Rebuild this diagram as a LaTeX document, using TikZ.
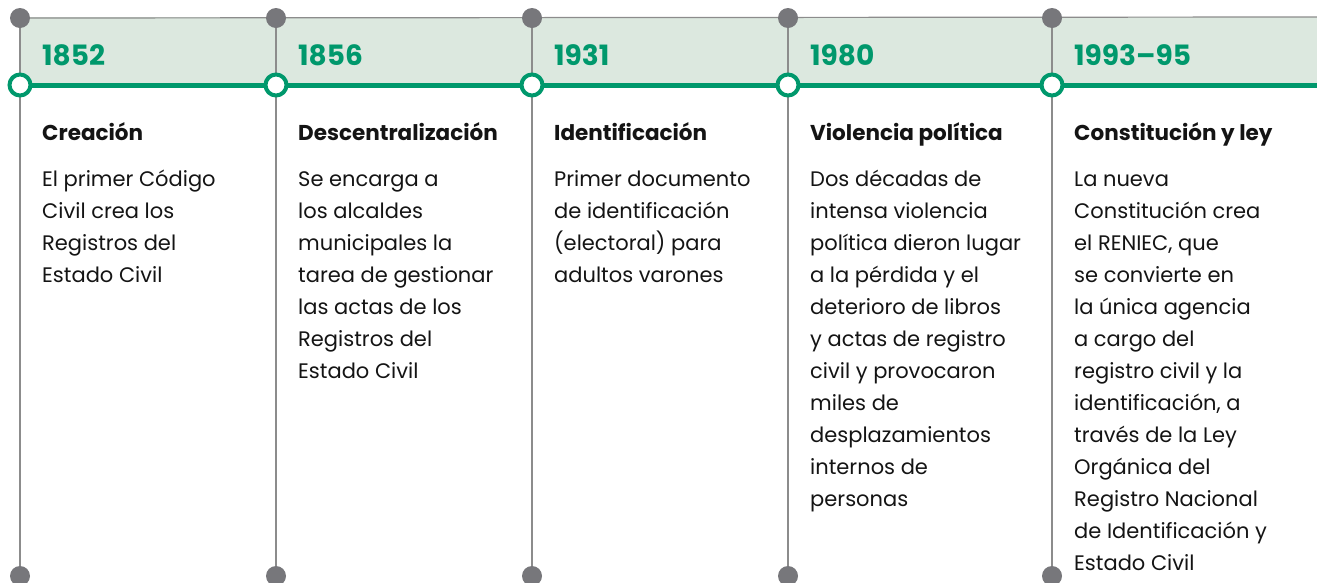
\documentclass[tikz,border=0pt]{standalone}
\usepackage{fontspec}
\setmainfont{Poppins}
\usepackage{xcolor}
\definecolor{bandgreen}{HTML}{DCE8DF}
\definecolor{linegreen}{HTML}{00986C}
\definecolor{dotgray}{HTML}{77777B}
\definecolor{rulegray}{HTML}{8C8C8C}
\definecolor{textblack}{HTML}{141414}

\begin{document}
\begin{tikzpicture}[x=1pt, y=-1pt,
  graydot/.style = {circle, fill=dotgray, minimum size=20pt, inner sep=0pt},
  greenring/.style = {circle, draw=linegreen, fill=white, line width=4pt, minimum size=21pt, inner sep=0pt},
  yearlabel/.style = {anchor=base west, inner sep=0pt, text=linegreen, font=\fontsize{28}{32}\selectfont\bfseries},
  headlabel/.style = {anchor=base west, inner sep=0pt, text=textblack, font=\fontsize{21.5}{32}\selectfont\bfseries},
  bodylabel/.style = {anchor=base west, inner sep=0pt, align=left, text=textblack, font=\fontsize{21}{32}\selectfont}]
\useasboundingbox (0,0) rectangle (1317,582);
% band behind the years
\fill[bandgreen] (20,17) rectangle (1317,85);
\coordinate (top1) at (20,18);   \coordinate (bot1) at (20,576);
\coordinate (top2) at (276,18);  \coordinate (bot2) at (276,576);
\coordinate (top3) at (532,18);  \coordinate (bot3) at (532,576);
\coordinate (top4) at (788,18);  \coordinate (bot4) at (788,576);
\coordinate (top5) at (1052,18); \coordinate (bot5) at (1052,576);
\coordinate (topend) at (1317,17);
\coordinate (mid1) at (20,85);  \coordinate (midend) at (1317,85);
\draw[rulegray, line width=1.2pt] (top1) -- (topend);
\draw[rulegray, line width=1.5pt] (top1) -- (bot1);
\draw[rulegray, line width=1.5pt] (top2) -- (bot2);
\draw[rulegray, line width=1.5pt] (top3) -- (bot3);
\draw[rulegray, line width=1.5pt] (top4) -- (bot4);
\draw[rulegray, line width=1.5pt] (top5) -- (bot5);
\draw[linegreen, line width=5pt] (mid1) -- (midend);
% dots and rings
\node[graydot] (d1) at (top1) {};  \node[graydot] (e1) at (bot1) {};
\node[graydot] (d2) at (top2) {};  \node[graydot] (e2) at (bot2) {};
\node[graydot] (d3) at (top3) {};  \node[graydot] (e3) at (bot3) {};
\node[graydot] (d4) at (top4) {};  \node[graydot] (e4) at (bot4) {};
\node[graydot] (d5) at (top5) {};  \node[graydot] (e5) at (bot5) {};
\node[greenring] (r1) at (20,85) {};
\node[greenring] (r2) at (276,85) {};
\node[greenring] (r3) at (532,85) {};
\node[greenring] (r4) at (788,85) {};
\node[greenring] (r5) at (1052,85) {};
% years
\node[yearlabel] (y1) at (42,65) {1852};
\node[yearlabel] (y2) at (298,65) {1856};
\node[yearlabel] (y3) at (554,65) {1931};
\node[yearlabel] (y4) at (810,65) {1980};
\node[yearlabel] (y5) at (1074,65) {1993–95};
% headings
\node[headlabel] (h1) at (42,140) {Creación};
\node[headlabel] (h2) at (298,140) {Descentralización};
\node[headlabel] (h3) at (554,140) {Identificación};
\node[headlabel] (h4) at (810,140) {Violencia política};
\node[headlabel] (h5) at (1074,140) {Constitución y ley};
% texts, placed at the baseline of their last line
\node[bodylabel] (t1) at (42,282) {El primer Código\\Civil crea los\\Registros del\\Estado Civil};
\node[bodylabel] (t2) at (298,378) {Se encarga a\\los alcaldes\\municipales la\\tarea de gestionar\\las actas de los\\Registros del\\Estado Civil};
\node[bodylabel] (t3) at (554,282) {Primer documento\\de identificación\\(electoral) para\\adultos varones};
\node[bodylabel] (t4) at (810,506) {Dos décadas de\\intensa violencia\\política dieron lugar\\a la pérdida y el\\deterioro de libros\\y actas de registro\\civil y provocaron\\miles de\\desplazamientos\\internos de\\personas};
\node[bodylabel] (t5) at (1074,570) {La nueva\\Constitución crea\\el RENIEC, que\\se convierte en\\la única agencia\\a cargo del\\registro civil y la\\identificación, a\\través de la Ley\\Orgánica del\\Registro Nacional\\de Identificación y\\Estado Civil};
\end{tikzpicture}
\end{document}
